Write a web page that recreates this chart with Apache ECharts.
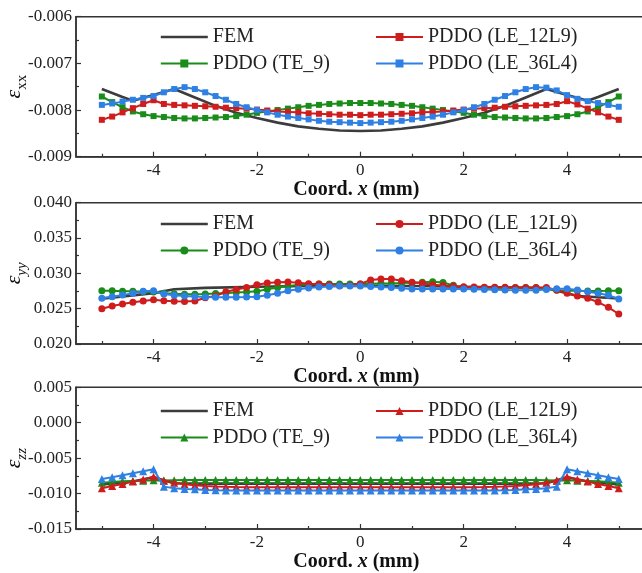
<!DOCTYPE html>
<html>
<head>
<meta charset="utf-8">
<script src="https://cdn.jsdelivr.net/npm/echarts@6/dist/echarts.min.js"></script>
<style>html,body{margin:0;padding:0;background:#fff;}#c{width:642px;height:573px;}</style>
</head>
<body>
<div id="c"></div>
<script>
// x coordinates (mm) of PDDO points
const X = [-5,-4.8,-4.6,-4.4,-4.2,-4,-3.8,-3.6,-3.4,-3.2,-3,-2.8,-2.6,-2.4,-2.2,-2,-1.8,-1.6,-1.4,-1.2,-1,-0.8,-0.6,-0.4,-0.2,0,0.2,0.4,0.6,0.8,1,1.2,1.4,1.6,1.8,2,2.2,2.4,2.6,2.8,3,3.2,3.4,3.6,3.8,4,4.2,4.4,4.6,4.8,5];
const seriesNames = ['FEM','PDDO (TE_9)','PDDO (LE_12L9)','PDDO (LE_36L4)'];
const xTickMajor = [-4,-2,0,2,4];
const xTickMinor = [-5,-3,-1,1,3,5];

// ---- eps_xx ----
const xxFemX = [-5,-4.6,-4.4,-4,-3.6,-3.2,-2.8,-2.4,-2,-1.6,-1.2,-0.8,-0.4,0,0.4,0.8,1.2,1.6,2,2.4,2.8,3.2,3.6,4,4.4,4.6,5];
const xxFem = [-0.00755,-0.00772,-0.00780,-0.00768,-0.00755,-0.00773,-0.00791,-0.00806,-0.00817,-0.00827,-0.00835,-0.00840,-0.00844,-0.00845,-0.00844,-0.00840,-0.00835,-0.00827,-0.00817,-0.00806,-0.00791,-0.00773,-0.00755,-0.00768,-0.00780,-0.00772,-0.00755];
const xxTE9 = [-0.00771,-0.00783,-0.00794,-0.00803,-0.00809,-0.00813,-0.00815,-0.00817,-0.00818,-0.00818,-0.00817,-0.00816,-0.00815,-0.00813,-0.00810,-0.00806,-0.00803,-0.00800,-0.00797,-0.00794,-0.00791,-0.00789,-0.00787,-0.00786,-0.00785,-0.00785,-0.00785,-0.00786,-0.00787,-0.00789,-0.00791,-0.00794,-0.00797,-0.00800,-0.00803,-0.00806,-0.00810,-0.00813,-0.00815,-0.00816,-0.00817,-0.00818,-0.00818,-0.00817,-0.00815,-0.00813,-0.00809,-0.00803,-0.00794,-0.00783,-0.00771];
const xxLE12 = [-0.00821,-0.00814,-0.00805,-0.00796,-0.00787,-0.00779,-0.00787,-0.00789,-0.00790,-0.00791,-0.00792,-0.00793,-0.00795,-0.00796,-0.00797,-0.00799,-0.00801,-0.00803,-0.00804,-0.00805,-0.00807,-0.00808,-0.00809,-0.00810,-0.00810,-0.00811,-0.00810,-0.00810,-0.00809,-0.00808,-0.00807,-0.00805,-0.00804,-0.00803,-0.00801,-0.00799,-0.00797,-0.00796,-0.00795,-0.00793,-0.00792,-0.00791,-0.00790,-0.00789,-0.00787,-0.00781,-0.00788,-0.00797,-0.00805,-0.00814,-0.00821];
const xxLE36 = [-0.00789,-0.00786,-0.00782,-0.00778,-0.00774,-0.00770,-0.00762,-0.00755,-0.00751,-0.00755,-0.00762,-0.00770,-0.00778,-0.00787,-0.00794,-0.00800,-0.00805,-0.00810,-0.00814,-0.00817,-0.00820,-0.00823,-0.00825,-0.00826,-0.00827,-0.00828,-0.00827,-0.00826,-0.00825,-0.00823,-0.00820,-0.00817,-0.00814,-0.00810,-0.00805,-0.00800,-0.00794,-0.00787,-0.00778,-0.00770,-0.00762,-0.00755,-0.00751,-0.00752,-0.00758,-0.00768,-0.00776,-0.00781,-0.00785,-0.00789,-0.00793];

// ---- eps_yy ----
const yyFemX = [-5,-4,-3.6,-3,-2,-1,0,1,2,3,3.6,4,4.2,4.6,5];
const yyFem = [0.02642,0.02720,0.02774,0.02795,0.02810,0.02820,0.02825,0.02820,0.02810,0.02800,0.02790,0.02720,0.02680,0.02662,0.02646];
const yyTE9 = [0.02755,0.02752,0.02748,0.02745,0.02740,0.02735,0.02720,0.02710,0.02703,0.02703,0.02708,0.02715,0.02722,0.02730,0.02735,0.02745,0.02774,0.02800,0.02820,0.02835,0.02844,0.02848,0.02850,0.02850,0.02850,0.02850,0.02852,0.02855,0.02858,0.02862,0.02868,0.02875,0.02882,0.02870,0.02830,0.02800,0.02795,0.02795,0.02795,0.02795,0.02795,0.02795,0.02795,0.02785,0.02760,0.02755,0.02752,0.02750,0.02750,0.02752,0.02755];
const yyLE12 = [0.02500,0.02538,0.02566,0.02590,0.02608,0.02627,0.02613,0.02604,0.02600,0.02608,0.02655,0.02680,0.02740,0.02770,0.02800,0.02840,0.02863,0.02873,0.02877,0.02868,0.02854,0.02849,0.02840,0.02825,0.02830,0.02850,0.02906,0.02920,0.02920,0.02896,0.02873,0.02860,0.02840,0.02827,0.02818,0.02811,0.02808,0.02805,0.02803,0.02802,0.02801,0.02800,0.02800,0.02800,0.02764,0.02717,0.02680,0.02646,0.02594,0.02519,0.02425];
const yyLE36 = [0.02646,0.02670,0.02692,0.02720,0.02745,0.02755,0.02708,0.02690,0.02680,0.02672,0.02665,0.02662,0.02660,0.02662,0.02665,0.02670,0.02690,0.02717,0.02755,0.02774,0.02792,0.02808,0.02815,0.02820,0.02820,0.02820,0.02815,0.02808,0.02800,0.02790,0.02780,0.02778,0.02778,0.02778,0.02780,0.02778,0.02774,0.02770,0.02767,0.02763,0.02760,0.02760,0.02762,0.02770,0.02783,0.02783,0.02765,0.02740,0.02717,0.02690,0.02637];

// ---- eps_zz ----
const zzFemX = [-5,-4.4,-4,-3.6,-3,0,3,3.6,4,4.4,5];
const zzFem = [-0.0087,-0.0083,-0.0077,-0.00855,-0.0086,-0.0086,-0.0086,-0.00855,-0.0077,-0.0083,-0.0087];
const zzTE9 = [-0.00846,-0.00837,-0.00827,-0.00822,-0.00818,-0.00812,-0.00815,-0.00812,-0.00810,-0.00810,-0.00810,-0.00810,-0.00810,-0.00810,-0.00810,-0.00810,-0.00810,-0.00810,-0.00810,-0.00810,-0.00810,-0.00810,-0.00810,-0.00810,-0.00810,-0.00810,-0.00810,-0.00810,-0.00810,-0.00810,-0.00810,-0.00810,-0.00810,-0.00810,-0.00810,-0.00810,-0.00810,-0.00810,-0.00810,-0.00810,-0.00810,-0.00810,-0.00810,-0.00812,-0.00815,-0.00812,-0.00818,-0.00822,-0.00827,-0.00837,-0.00846];
const zzLE12 = [-0.00926,-0.00893,-0.00865,-0.00831,-0.00800,-0.00761,-0.00818,-0.00846,-0.00870,-0.00884,-0.00893,-0.00900,-0.00905,-0.00908,-0.00910,-0.00910,-0.00910,-0.00910,-0.00910,-0.00910,-0.00910,-0.00910,-0.00910,-0.00910,-0.00910,-0.00910,-0.00910,-0.00910,-0.00910,-0.00910,-0.00910,-0.00910,-0.00910,-0.00910,-0.00910,-0.00910,-0.00910,-0.00908,-0.00905,-0.00900,-0.00893,-0.00884,-0.00870,-0.00846,-0.00818,-0.00761,-0.00800,-0.00831,-0.00865,-0.00893,-0.00926];
const zzLE36 = [-0.00794,-0.00770,-0.00742,-0.00714,-0.00686,-0.00658,-0.00902,-0.00925,-0.00935,-0.00940,-0.00949,-0.00953,-0.00955,-0.00955,-0.00955,-0.00955,-0.00955,-0.00955,-0.00955,-0.00955,-0.00955,-0.00955,-0.00955,-0.00955,-0.00955,-0.00955,-0.00955,-0.00955,-0.00955,-0.00955,-0.00955,-0.00955,-0.00955,-0.00955,-0.00955,-0.00955,-0.00955,-0.00955,-0.00955,-0.00953,-0.00949,-0.00940,-0.00935,-0.00925,-0.00902,-0.00658,-0.00686,-0.00714,-0.00742,-0.00770,-0.00794];

const COLORS = {fem:'#3c3c3c', te:'#1a8c1a', le12:'#cf1c1c', le36:'#2f80e3'};
const FONT = 'Liberation Serif';

const panels = [
  {sub:'xx', subItalic:false, min:-0.009, max:-0.006, interval:0.001, symbol:'rect', size:6,
   fx:xxFemX, fem:xxFem, te:xxTE9, le12:xxLE12, le36:xxLE36, top:16.7, height:140, legTop:27},
  {sub:'yy', subItalic:true, min:0.020, max:0.040, interval:0.005, symbol:'circle', size:7,
   fx:yyFemX, fem:yyFem, te:yyTE9, le12:yyLE12, le36:yyLE36, top:202.7, height:141.3, legTop:214},
  {sub:'zz', subItalic:true, min:-0.015, max:0.005, interval:0.005, symbol:'triangle', size:8,
   fx:zzFemX, fem:zzFem, te:zzTE9, le12:zzLE12, le36:zzLE36, top:387.3, height:141.7, legTop:401}
];

const grid=[], xAxis=[], yAxis=[], series=[], legend=[];
panels.forEach((p,i)=>{
  grid.push({left:76, top:p.top, width:568.6, height:p.height, show:true, borderColor:'#333', borderWidth:1.5,
    backgroundColor:'transparent', containLabel:false, outerBoundsMode:'none'});
  xAxis.push({type:'value', gridIndex:i, min:-5.5, max:5.5, position:'bottom',
    axisLine:{show:true, onZero:false, lineStyle:{color:'#333', width:1.5}},
    axisTick:{show:true, inside:true, length:5, customValues:xTickMajor, lineStyle:{color:'#333', width:1.2}},
    axisLabel:{show:true, customValues:xTickMajor, margin:5, color:'#222', fontFamily:FONT, fontSize:17},
    splitLine:{show:false},
    name:'{b|Coord. }{i|x}{b| (mm)}', nameLocation:'middle', nameGap:23, nameMoveOverlap:false,
    nameTextStyle:{padding:[0,8,0,0], rich:{b:{fontFamily:FONT, fontWeight:'bold', fontSize:20, color:'#111'}, i:{fontFamily:FONT, fontWeight:'bold', fontStyle:'italic', fontSize:20, color:'#111'}}}
  });
  xAxis.push({type:'value', gridIndex:i, min:-5.5, max:5.5, position:'bottom',
    axisLine:{show:false, onZero:false},
    axisTick:{show:true, inside:true, length:3, customValues:xTickMinor, lineStyle:{color:'#333', width:1.2}},
    axisLabel:{show:false}, splitLine:{show:false}});
  yAxis.push({type:'value', gridIndex:i, min:p.min, max:p.max, interval:p.interval,
    axisLine:{show:true, onZero:false, lineStyle:{color:'#333', width:1.5}},
    axisTick:{show:true, inside:true, length:5, lineStyle:{color:'#333', width:1.2}},
    minorTick:{show:true, splitNumber:2, length:3, lineStyle:{color:'#333', width:1.2}},
    axisLabel:{margin:4, color:'#222', fontFamily:FONT, fontSize:17,
      formatter:v=> (Math.abs(v)<1e-12 ? 0 : v).toFixed(3)},
    splitLine:{show:false},
    name:'{e|ε}{s|'+p.sub+'}', nameLocation:'middle', nameRotate:90, nameGap:46, nameMoveOverlap:false,
    nameTextStyle:{rich:{
      e:{fontFamily:FONT, fontStyle:'italic', fontSize:22, color:'#111', verticalAlign:'bottom', padding:[0,0,5,0]},
      s:{fontFamily:FONT, fontStyle:p.subItalic?'italic':'normal', fontSize:15, color:'#111', verticalAlign:'bottom'}
    }}
  });
  const xi = i*2;
  const pref = 'p'+i+':';
  series.push({name:pref+seriesNames[0], type:'line', xAxisIndex:xi, yAxisIndex:i,
    data:p.fx.map((x,k)=>[x,p.fem[k]]), showSymbol:false, symbol:'none',
    lineStyle:{color:COLORS.fem, width:2.6}, itemStyle:{color:COLORS.fem}, z:3});
  const mk = (name, arr, col, z)=>({name:pref+name, type:'line', xAxisIndex:xi, yAxisIndex:i,
    data:X.map((x,k)=>[x,arr[k]]), symbol:p.symbol, symbolSize:p.size, showSymbol:true,
    lineStyle:{color:col, width:2}, itemStyle:{color:col}, z:z});
  series.push(mk(seriesNames[1], p.te, COLORS.te, 4));
  series.push(mk(seriesNames[2], p.le12, COLORS.le12, 5));
  series.push(mk(seriesNames[3], p.le36, COLORS.le36, 6));
  const legCommon = {orient:'vertical', top:p.legTop, itemGap:6.5, itemWidth:47, itemHeight:10, padding:0,
    selectedMode:false, textStyle:{fontFamily:FONT, fontSize:20, color:'#222', padding:[0,0,0,0]},
    formatter:n=>n.split(':')[1]};
  legend.push(Object.assign({}, legCommon, {left:159.5, data:[
    {name:pref+seriesNames[0], itemStyle:{opacity:0}, lineStyle:{width:2.6, color:COLORS.fem}},
    pref+seriesNames[1]]}));
  legend.push(Object.assign({}, legCommon, {left:375, data:[pref+seriesNames[2], pref+seriesNames[3]]}));
});

const chart = echarts.init(document.getElementById('c'), null, {renderer:'canvas'});
chart.setOption({animation:false, backgroundColor:'#fff', grid, xAxis, yAxis, series, legend});
</script>
</body>
</html>
